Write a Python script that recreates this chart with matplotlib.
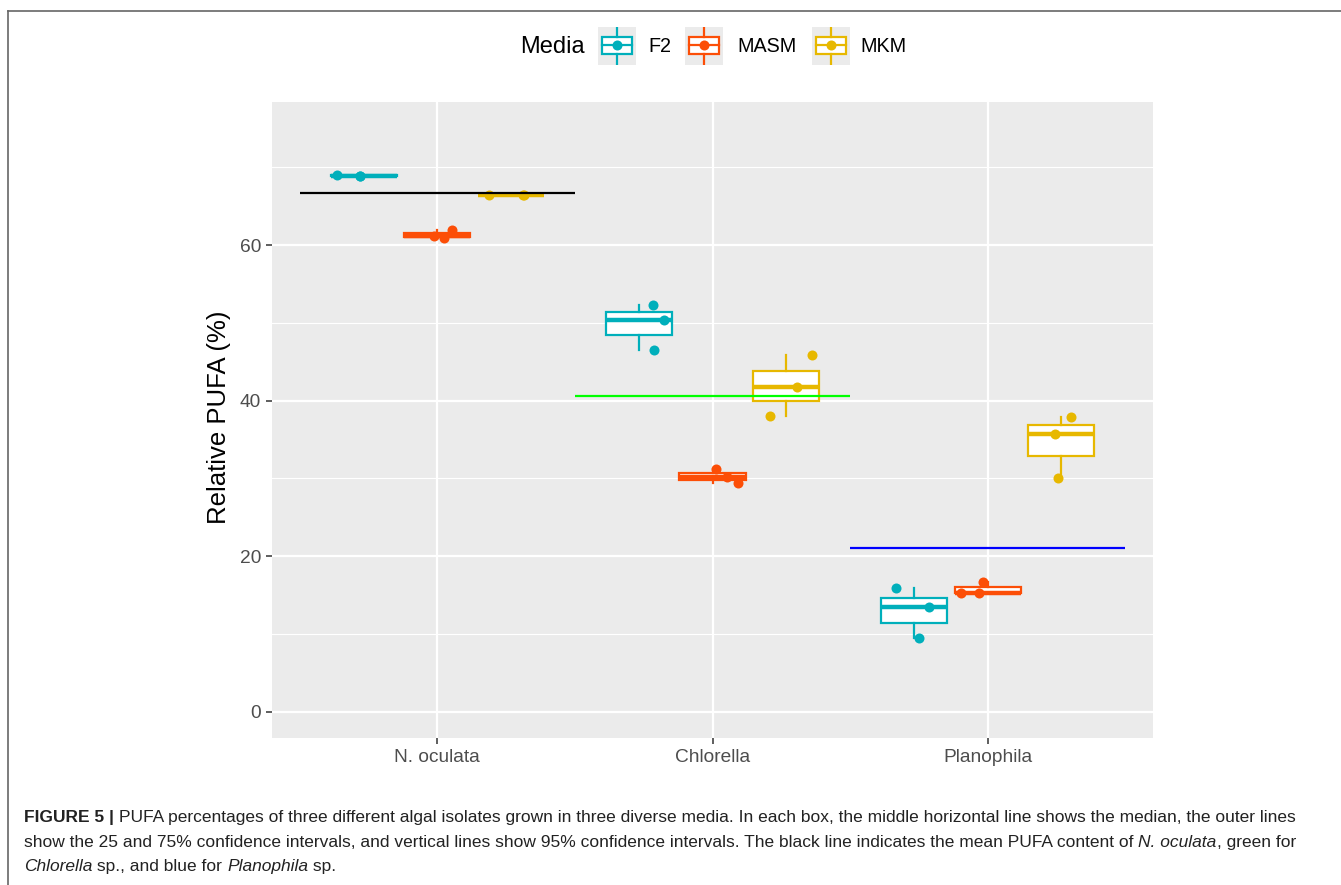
import numpy as np
import matplotlib.pyplot as plt
from matplotlib.lines import Line2D
from matplotlib.patches import Rectangle

plt.rcParams['font.family'] = ['Liberation Sans', 'DejaVu Sans']

# ---- data ----
isolates = ['N. oculata', 'Chlorella', 'Planophila']
media = ['F2', 'MASM', 'MKM']
colors = {'F2': '#00AFBB', 'MASM': '#FC4E07', 'MKM': '#E7B800'}

# relative PUFA (%) of the three replicates, per medium, per isolate
pufa_f2 = [[69.0, 68.9, 68.9], [52.3, 50.4, 46.5], [15.9, 13.4, 9.5]]
pufa_masm = [[61.2, 60.9, 62.0], [31.2, 30.2, 29.4], [15.3, 15.2, 16.7]]
pufa_mkm = [[66.4, 66.5, 66.4], [45.9, 41.8, 38.0], [37.9, 35.7, 30.1]]

# horizontal jitter of the replicate points
jit_f2 = [[-0.096, -0.012, -0.015], [0.049, 0.089, 0.053], [-0.067, 0.053, 0.017]]
jit_masm = [[-0.011, 0.025, 0.054], [0.011, 0.051, 0.091], [-0.098, -0.033, -0.018]]
jit_mkm = [[-0.078, 0.049, 0.045], [0.096, 0.041, -0.057], [0.034, -0.024, -0.013]]

# mean PUFA per isolate
isolate_means = [66.7, 40.65, 21.1]
mean_colors = ['black', '#00FF00', '#0000FF']

pufa = {'F2': pufa_f2, 'MASM': pufa_masm, 'MKM': pufa_mkm}
jit = {'F2': jit_f2, 'MASM': jit_masm, 'MKM': jit_mkm}

W, H = 1341, 885
fig = plt.figure(figsize=(W / 100, H / 100), dpi=100)
ax = fig.add_axes([272 / W, 1 - 738 / H, (1153 - 272) / W, (738 - 102) / H])

ax.set_facecolor('#EBEBEB')
for s in ax.spines.values():
    s.set_visible(False)
ax.set_axisbelow(True)

dodge = 0.8 / 3
xpos = np.arange(1, len(isolates) + 1)

for k, m in enumerate(media):
    off = (k - 1) * dodge
    c = colors[m]
    ax.boxplot(pufa[m], positions=xpos + off, widths=0.24, whis=(0, 100),
               showfliers=False, showcaps=False, patch_artist=True,
               manage_ticks=False,
               boxprops=dict(facecolor='white', edgecolor=c, linewidth=1.6),
               whiskerprops=dict(color=c, linewidth=1.6),
               medianprops=dict(color=c, linewidth=3.2, solid_capstyle='butt'),
               zorder=2)
    for i in range(len(isolates)):
        ax.scatter(xpos[i] + off + np.array(jit[m][i]), pufa[m][i], s=52,
                   color=c, linewidths=0, zorder=3)

for i, (mv, mc) in enumerate(zip(isolate_means, mean_colors)):
    ax.hlines(mv, xpos[i] - 0.5, xpos[i] + 0.5, color=mc, linewidth=1.6, zorder=4)

ax.set_xlim(0.4, 3.6)
ax.set_ylim(-3.4, 78.4)
ax.set_yticks([0, 20, 40, 60])
ax.set_yticks([10, 30, 50, 70], minor=True)
ax.set_xticks(xpos)
ax.set_xticklabels(isolates)
ax.grid(which='major', color='white', linewidth=1.6)
ax.grid(which='minor', axis='y', color='white', linewidth=0.8)
ax.tick_params(which='major', length=4, width=1.1, color='#333333',
               labelcolor='#4D4D4D', labelsize=13.8, pad=4)
ax.tick_params(which='minor', length=0)
ax.set_ylabel('Relative PUFA (%)', fontsize=18.5, color='black')
ax.yaxis.set_label_coords(-0.047, 0.505)

# legend across the top
fig.text(520 / W, 1 - 47 / H, 'Media', fontsize=17, va='center', ha='left')
key_x = [598, 685, 812]
lab_x = [648, 737, 860]
for m, kx, lx in zip(media, key_x, lab_x):
    c = colors[m]
    kax = fig.add_axes([kx / W, 1 - 65 / H, 38 / W, 38 / H])
    kax.set_facecolor('#EBEBEB')
    kax.set_xlim(0, 1)
    kax.set_ylim(0, 1)
    kax.set_xticks([])
    kax.set_yticks([])
    for s in kax.spines.values():
        s.set_visible(False)
    kax.add_patch(Rectangle((0.1, 0.29), 0.8, 0.45, facecolor='white',
                            edgecolor=c, linewidth=1.6))
    kax.plot([0.5, 0.5], [0, 0.29], color=c, linewidth=1.6)
    kax.plot([0.5, 0.5], [0.74, 1], color=c, linewidth=1.6)
    kax.plot([0.1, 0.9], [0.52, 0.52], color=c, linewidth=1.6)
    kax.scatter([0.5], [0.52], s=52, color=c, linewidths=0, zorder=3)
    fig.text(lx / W, 1 - 47 / H, m, fontsize=14.2, va='center', ha='left')

# frame around the figure
fig.add_artist(Line2D([8 / W, 1], [1 - 10.5 / H, 1 - 10.5 / H], color='#666666', linewidth=1.2))
fig.add_artist(Line2D([8 / W, 8 / W], [0, 1 - 10.5 / H], color='#666666', linewidth=1.2))

# caption, written as runs of differently styled text
renderer = fig.canvas.get_renderer()


def caption_line(y_px, runs, size=12.5):
    x = 24 / W
    for txt, kw in runs:
        t = fig.text(x, 1 - y_px / H, txt, fontsize=size, va='baseline',
                     ha='left', color='#222222', **kw)
        x += t.get_window_extent(renderer).width / W


caption_line(822, [('FIGURE 5 | ', dict(weight='bold')),
                   ('PUFA percentages of three different algal isolates grown in three diverse media. '
                    'In each box, the middle horizontal line shows the median, the outer lines', {})])
caption_line(847, [('show the 25 and 75% confidence intervals, and vertical lines show 95% confidence '
                    'intervals. The black line indicates the mean PUFA content of ', {}),
                   ('N. oculata', dict(style='italic')),
                   (', green for', {})])
caption_line(871, [('Chlorella', dict(style='italic')),
                   (' sp., and blue for ', {}),
                   ('Planophila', dict(style='italic')),
                   (' sp.', {})])

fig.savefig('out.png', dpi=100)
